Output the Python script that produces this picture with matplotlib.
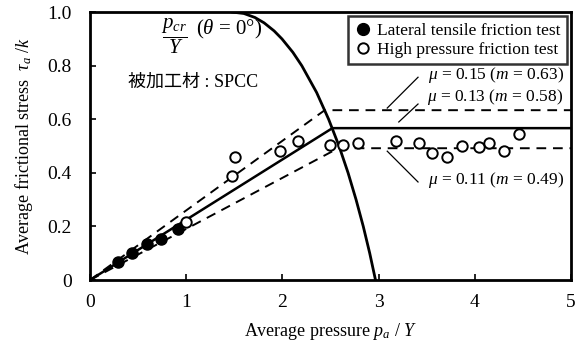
"""
平均摩擦応力 vs 平均圧力 (SPCC) — 再現
"""
import numpy as np
import matplotlib
matplotlib.use("Agg")
import matplotlib.pyplot as plt
import matplotlib.ticker as mticker
from matplotlib.lines import Line2D

plt.rcParams['font.family'] = ['Liberation Serif', 'Noto Sans CJK JP']
plt.rcParams['mathtext.fontset'] = 'custom'
plt.rcParams['mathtext.rm'] = 'Liberation Serif'
plt.rcParams['mathtext.it'] = 'Liberation Serif:italic'
plt.rcParams['mathtext.bf'] = 'Liberation Serif:bold'

# ─── データ ─────────────────────────────────────────
# 側方引張摩擦試験 (黒丸)
lat_p = [0.29, 0.44, 0.59, 0.74, 0.92]
lat_tau = [0.068, 0.102, 0.134, 0.152, 0.189]

# 高圧摩擦試験 (白丸)
hp_p = [0.995, 1.48, 1.51, 1.975, 2.16, 2.49, 2.63, 2.79, 3.18, 3.42,
        3.56, 3.71, 3.87, 4.04, 4.15, 4.30, 4.46]
hp_tau = [0.218, 0.388, 0.458, 0.483, 0.520, 0.504, 0.504, 0.512, 0.520, 0.512,
          0.475, 0.460, 0.502, 0.498, 0.510, 0.480, 0.545]

# 臨界圧力曲線 p_cr/Y (θ = 0°)
crit_tau = [1.0, 0.995, 0.98, 0.96, 0.93, 0.90, 0.85, 0.80, 0.70, 0.60,
            0.50, 0.40, 0.30, 0.20, 0.10, 0.0]
crit_p = [1.484, 1.600, 1.715, 1.810, 1.914, 1.996, 2.109, 2.202, 2.356, 2.481,
          2.589, 2.683, 2.766, 2.841, 2.908, 2.968]

# 摩擦係数ライン (原点 → 曲線との交点 → 水平)
mu15_p, mu15_tau = [0, 2.44, 5.0], [0, 0.634, 0.634]
mu13_p, mu13_tau = [0, 2.52, 5.0], [0, 0.567, 0.567]
mu11_p, mu11_tau = [0, 2.58, 5.0], [0, 0.492, 0.492]

# ─── 図 ─────────────────────────────────────────
fig = plt.figure(figsize=(5.75, 3.47), dpi=100)
ax = fig.add_axes([0.1565, 0.193, 0.8365, 0.772])

DASH = (0, (5, 3.5))
ax.plot(crit_p, crit_tau, color='black', lw=2.0, zorder=3)
ax.plot(mu13_p, mu13_tau, color='black', lw=1.8, zorder=3)
ax.plot(mu15_p, mu15_tau, color='black', lw=1.4, ls=DASH, zorder=3)
ax.plot(mu11_p, mu11_tau, color='black', lw=1.4, ls=DASH, zorder=3)

ax.plot(lat_p, lat_tau, 'o', ms=8, mfc='black', mec='black', zorder=5)
ax.plot(hp_p, hp_tau, 'o', ms=7.5, mfc='white', mec='black', mew=1.4, zorder=5)

# 注記
ax.text(0.88, 0.91, r'$\dfrac{p_{cr}}{Y}$', fontsize=15, ha='center', va='center')
ax.text(1.10, 0.935, r'($\theta$ = 0°)', fontsize=15, ha='left', va='center')
ax.text(0.39, 0.74, '被加工材 : SPCC', fontsize=13, ha='left', va='center')

ax.text(3.51, 0.765, r'$\mu$ = 0.15 ($m$ = 0.63)', fontsize=12.5, ha='left', va='center')
ax.text(3.50, 0.683, r'$\mu$ = 0.13 ($m$ = 0.58)', fontsize=12.5, ha='left', va='center')
ax.text(3.51, 0.373, r'$\mu$ = 0.11 ($m$ = 0.49)', fontsize=12.5, ha='left', va='center')
ax.plot([3.41, 3.09], [0.757, 0.642], color='black', lw=0.9)
ax.plot([3.41, 3.21], [0.657, 0.590], color='black', lw=0.9)
ax.plot([3.09, 3.41], [0.481, 0.366], color='black', lw=0.9)

# 軸
ax.set_xlim(0, 5)
ax.set_ylim(0, 1.0)
ax.xaxis.set_major_locator(mticker.MultipleLocator(1))
ax.yaxis.set_major_locator(mticker.MultipleLocator(0.2))
ax.xaxis.set_major_formatter(plt.FuncFormatter(lambda x, _: f'{x:.0f}'))
ax.yaxis.set_major_formatter(plt.FuncFormatter(lambda y, _: '0' if y == 0 else f'{y:.1f}'))
ax.tick_params(direction='in', length=4, width=1.2, labelsize=14, colors='black')
ax.tick_params(axis='y', pad=13)
ax.tick_params(axis='x', pad=10)
for s in ax.spines.values():
    s.set_linewidth(2)
    s.set_color('black')

ax.set_xlabel(r'Average pressure $p_a$ / $Y$', fontsize=13, labelpad=7)
ax.set_ylabel(r'Average frictional stress  $\tau_a$ /$k$', fontsize=13, labelpad=9)

handles = [
    Line2D([], [], ls='none', marker='o', ms=8.5, mfc='black', mec='black'),
    Line2D([], [], ls='none', marker='o', ms=7.5, mfc='white', mec='black', mew=1.4),
]
leg = ax.legend(handles, ['Lateral tensile friction test', 'High pressure friction test'],
                loc='upper right', bbox_to_anchor=(1.0, 1.0), borderaxespad=0.25,
                fontsize=12.5, frameon=True, fancybox=False, edgecolor='black',
                handletextpad=0.3, handlelength=1.0, borderpad=0.35, labelspacing=0.2)
leg.get_frame().set_linewidth(1.8)

fig.savefig('out.png', dpi=100, facecolor='white')
plt.close(fig)
